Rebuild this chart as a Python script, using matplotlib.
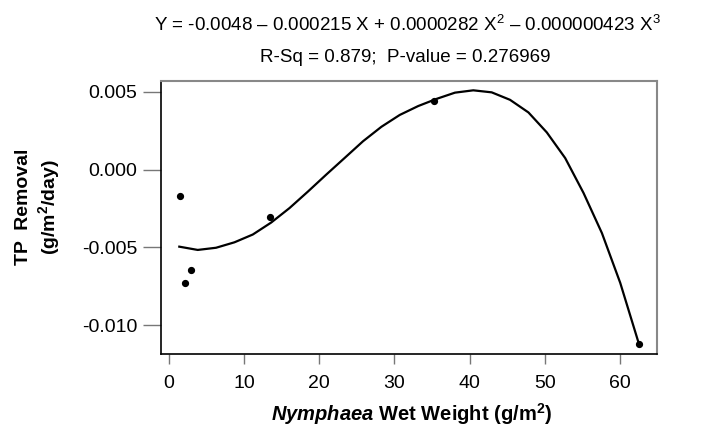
import numpy as np
import matplotlib
matplotlib.use("Agg")
import matplotlib.pyplot as plt

plt.rcParams['font.family'] = ['Liberation Sans', 'DejaVu Sans']
plt.rcParams['mathtext.fontset'] = 'custom'
plt.rcParams['mathtext.rm'] = 'Liberation Sans'
plt.rcParams['mathtext.it'] = 'Liberation Sans:italic'
plt.rcParams['mathtext.bf'] = 'Liberation Sans:bold'
plt.rcParams['mathtext.bfit'] = 'Liberation Sans:bold:italic'

# observed points
weight = [1.47, 2.13, 2.97, 13.42, 35.3, 62.56]
tp_removal = [-0.00170, -0.00730, -0.00645, -0.00302, 0.00441, -0.01117]

# fitted cubic
fit_x = [1.37, 3.82, 6.26, 8.71, 11.15, 13.6, 16.04, 18.49, 20.93, 23.38,
         25.82, 28.27, 30.71, 33.16, 35.6, 38.05, 40.49, 42.94, 45.38, 47.83,
         50.27, 52.72, 55.16, 57.61, 60.05, 62.5]
fit_y = [-0.00495, -0.00516, -0.00502, -0.00467, -0.00417, -0.00340, -0.00247,
         -0.00141, -0.00032, 0.00075, 0.00182, 0.00275, 0.00351, 0.00408,
         0.00454, 0.00494, 0.00509, 0.00496, 0.00448, 0.00367, 0.00239,
         0.00074, -0.00150, -0.00408, -0.00728, -0.01114]

xticks = [0, 10, 20, 30, 40, 50, 60]
yticks = [-0.010, -0.005, 0.000, 0.005]

fig = plt.figure(figsize=(7.05, 4.28), dpi=100)
ax = fig.add_axes([0.228, 0.173, 0.7035, 0.6378])

ax.plot(fit_x, fit_y, color='black', lw=1.6)
ax.plot(weight, tp_removal, 'o', color='black', ms=4.2)

ax.set_xlim(-1.1, 64.9)
ax.set_ylim(-0.01184, 0.00569)
ax.set_xticks(xticks)
ax.set_xticklabels([str(t) for t in xticks])
ax.set_yticks(yticks)
ax.set_yticklabels(['%.3f' % t for t in yticks])

ax.tick_params(axis='y', direction='out', length=12.7, width=1, color='#777777',
               pad=4, labelsize=14)
ax.tick_params(axis='x', direction='out', length=7, width=1, color='#777777',
               pad=8, labelsize=14)

for s in ['top', 'right']:
    ax.spines[s].set_color('#888888')
    ax.spines[s].set_linewidth(1.5)
for s in ['left', 'bottom']:
    ax.spines[s].set_color('black')
    ax.spines[s].set_linewidth(1.2)

fig.text(407.5 / 705, 1 - 25 / 428,
         'Y = -0.0048 \u2013 0.000215 X + 0.0000282 X$^2$ \u2013 0.000000423 X$^3$',
         ha='center', va='center', fontsize=13.5)
fig.text(405.5 / 705, 1 - 58 / 428, 'R-Sq = 0.879;  P-value = 0.276969',
         ha='center', va='center', fontsize=13.5)

fig.text(24 / 705, 1 - 207 / 428, 'TP  Removal', rotation=90, ha='center',
         va='center', fontsize=14, fontweight='bold')
fig.text(49 / 705, 1 - 207 / 428, '(g/m$^\\mathbf{2}$/day)', rotation=90,
         ha='center', va='center', fontsize=14, fontweight='bold')

fig.text(412 / 705, 1 - 414 / 428,
         '$\\mathbfit{Nymphaea}$ Wet Weight (g/m$^\\mathbf{2}$)',
         ha='center', va='center', fontsize=14.5, fontweight='bold')

fig.savefig('out.png', dpi=100)
